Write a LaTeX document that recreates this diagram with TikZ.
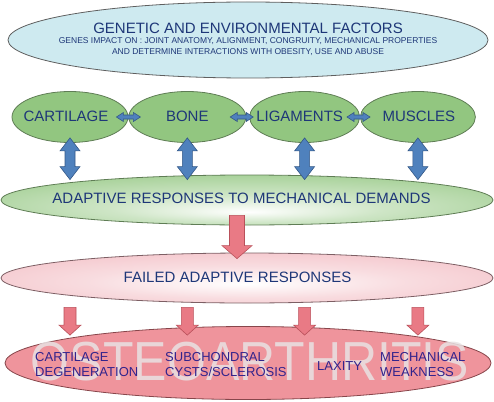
\documentclass[tikz,border=0pt]{standalone}
\usepackage{fontspec}
\setmainfont{Liberation Sans}
\usetikzlibrary{shapes.geometric, positioning, calc}

\definecolor{genfill}{RGB}{206,234,240}
\definecolor{genline}{RGB}{95,95,95}
\definecolor{tissuefill}{RGB}{146,198,128}
\definecolor{tissueline}{RGB}{95,125,85}
\definecolor{failfill}{RGB}{242,186,193}
\definecolor{failline}{RGB}{125,95,100}
\definecolor{oafill}{RGB}{239,148,156}
\definecolor{oaline}{RGB}{135,70,75}
\definecolor{oaword}{RGB}{232,226,227}
\definecolor{bluefill}{RGB}{79,129,189}
\definecolor{blueline}{RGB}{52,88,135}
\definecolor{pinkfill}{RGB}{233,122,133}
\definecolor{pinkline}{RGB}{185,80,90}
\definecolor{navytext}{RGB}{30,55,120}
\definecolor{inktext}{RGB}{50,35,140}
\colorlet{adaptpale}{white!55!tissuefill}
\colorlet{failpale}{white!50!failfill}

\pgfdeclareradialshading{adaptglow}{\pgfpoint{0bp}{-12bp}}{color(0bp)=(white); color(14bp)=(adaptpale); color(40bp)=(tissuefill); color(50bp)=(tissuefill)}
\pgfdeclareradialshading{failglow}{\pgfpoint{0bp}{-6bp}}{color(0bp)=(white); color(16bp)=(failpale); color(40bp)=(failfill); color(50bp)=(failfill)}

% block arrows (#1 = first end, #2 = second end)
\newcommand{\vdouble}[2]{%
  \path[bluearrow] let \p1=(#1), \p2=(#2) in
    (\x1,\y1) -- (\x1+10pt,\y1-13pt) -- (\x1+5pt,\y1-13pt) -- (\x1+5pt,\y2+13pt)
    -- (\x1+10pt,\y2+13pt) -- (\x1,\y2) -- (\x1-10pt,\y2+13pt) -- (\x1-5pt,\y2+13pt)
    -- (\x1-5pt,\y1-13pt) -- (\x1-10pt,\y1-13pt) -- cycle;}
\newcommand{\hdouble}[2]{%
  \path[bluearrow] let \p1=(#1), \p2=(#2) in
    (\x1,\y1) -- (\x1+7pt,\y1+4.5pt) -- (\x1+7pt,\y1+2pt) -- (\x2-7pt,\y1+2pt)
    -- (\x2-7pt,\y1+4.5pt) -- (\x2,\y1) -- (\x2-7pt,\y1-4.5pt) -- (\x2-7pt,\y1-2pt)
    -- (\x1+7pt,\y1-2pt) -- (\x1+7pt,\y1-4.5pt) -- cycle;}
% #3 shaft half width, #4 head half width, #5 head length
\newcommand{\downblock}[5]{%
  \path[pinkarrow] let \p1=(#1), \p2=(#2) in
    (\x1-#3,\y1) -- (\x1+#3,\y1) -- (\x1+#3,\y2+#5) -- (\x1+#4,\y2+#5)
    -- (\x1,\y2) -- (\x1-#4,\y2+#5) -- (\x1-#3,\y2+#5) -- cycle;}

\begin{document}
\begin{tikzpicture}[x=1pt, y=-1pt,
    genoval/.style={ellipse, draw=genline, line width=0.8pt, fill=genfill, minimum width=480pt, minimum height=76pt, inner sep=0pt},
    tissueoval/.style={ellipse, draw=tissueline, line width=0.8pt, fill=tissuefill, minimum height=51pt, inner sep=0pt},
    adaptoval/.style={ellipse, draw=tissueline, line width=0.8pt, shade, shading=adaptglow, minimum width=492pt, minimum height=50pt, inner sep=0pt},
    failoval/.style={ellipse, draw=failline, line width=0.8pt, shade, shading=failglow, minimum width=492pt, minimum height=50pt, inner sep=0pt},
    oaoval/.style={ellipse, draw=oaline, line width=0.8pt, fill=oafill, minimum width=486pt, minimum height=73pt, inner sep=0pt},
    titletext/.style={text=navytext, font=\fontsize{15}{17}\selectfont, inner sep=0pt},
    genestext/.style={text=navytext, font=\fontsize{8.5}{11}\selectfont, align=center, inner sep=0pt},
    oatext/.style={text=oaword, text opacity=0.85, font=\fontsize{50}{56}\selectfont, inner sep=0pt},
    oalabel/.style={text=inktext, font=\fontsize{13}{15}\selectfont, align=left, inner sep=0pt, anchor=west},
    bluearrow/.style={fill=bluefill, draw=blueline, line width=0.6pt, line join=miter},
    pinkarrow/.style={fill=pinkfill, draw=pinkline, line width=0.6pt, line join=miter}
]
\useasboundingbox (0,0) rectangle (494,401);

% Genetic and environmental factors (top)
\node[genoval,
      label={[titletext, yshift=12pt]center:GENETIC AND ENVIRONMENTAL FACTORS},
      label={[genestext, yshift=-6.5pt]center:{GENES IMPACT ON : JOINT ANATOMY,  ALIGNMENT,  CONGRUITY,  MECHANICAL  PROPERTIES\\AND DETERMINE INTERACTIONS  WITH OBESITY, USE AND ABUSE}}]
    (gen) at (248,40) {};

% Tissues row
\node[tissueoval, minimum width=116pt, label={[titletext, xshift=-4pt, yshift=1pt]center:CARTILAGE}] (cart) at (70,117) {};
\node[tissueoval, minimum width=117pt, right=0pt of cart, label={[titletext, yshift=1pt]center:BONE}] (bone) {};
\node[tissueoval, minimum width=110pt, right=3pt of bone, label={[titletext, xshift=-5pt, yshift=1pt]center:LIGAMENTS}] (lig) {};
\node[tissueoval, minimum width=115pt, right=0pt of lig, label={[titletext, xshift=1pt, yshift=1pt]center:MUSCLES}] (musc) {};

% Adaptive and failed responses
\node[adaptoval, label={[titletext, xshift=-5.5pt, yshift=2pt]center:ADAPTIVE RESPONSES TO MECHANICAL DEMANDS}] (adapt) at (247,200) {};
\node[failoval, label={[titletext, xshift=-9.5pt, yshift=1pt]center:FAILED ADAPTIVE RESPONSES}] (fail) at (247,278) {};

% Osteoarthritis
\node[oaoval] (oa) at (248,363) {};
\node[oatext, anchor=base] (oaword) at (250,380) {\scalebox{1}[1.1]{OSTEOARTHRITIS}};
\node[oalabel] (cartdeg) at (35,365) {CARTILAGE\\DEGENERATION};
\node[oalabel] (cysts) at (165,365) {SUBCHONDRAL\\CYSTS/SCLEROSIS};
\node[oalabel] (laxity) at (317,366) {LAXITY};
\node[oalabel] (weak) at (380,365) {MECHANICAL\\WEAKNESS};

% Arrows between tissues
\hdouble{$(cart.east)+(-12,0)$}{$(bone.west)+(12,0)$}
\hdouble{$(bone.east)+(-16,0)$}{$(lig.west)+(4,0)$}
\hdouble{$(lig.east)+(-13,0)$}{$(musc.west)+(10,0)$}

% Tissues <-> adaptive responses
\foreach \t in {cart,bone,lig,musc}
  \vdouble{$(\t.south)+(0,-5)$}{$(\t.south |- adapt.north)+(0,5)$};

% Adaptive -> failed
\downblock{$(adapt.south)+(-10,-10)$}{$(fail.north)+(-10,6)$}{7.5pt}{15pt}{13pt}

% Failed -> osteoarthritis
\foreach \t in {cart,bone,lig,musc}
  \downblock{$(\t.south |- fail.south)+(0,4)$}{$(\t.south |- oa.north)+(0,9)$}{6pt}{11pt}{10pt};

\end{tikzpicture}
\end{document}
